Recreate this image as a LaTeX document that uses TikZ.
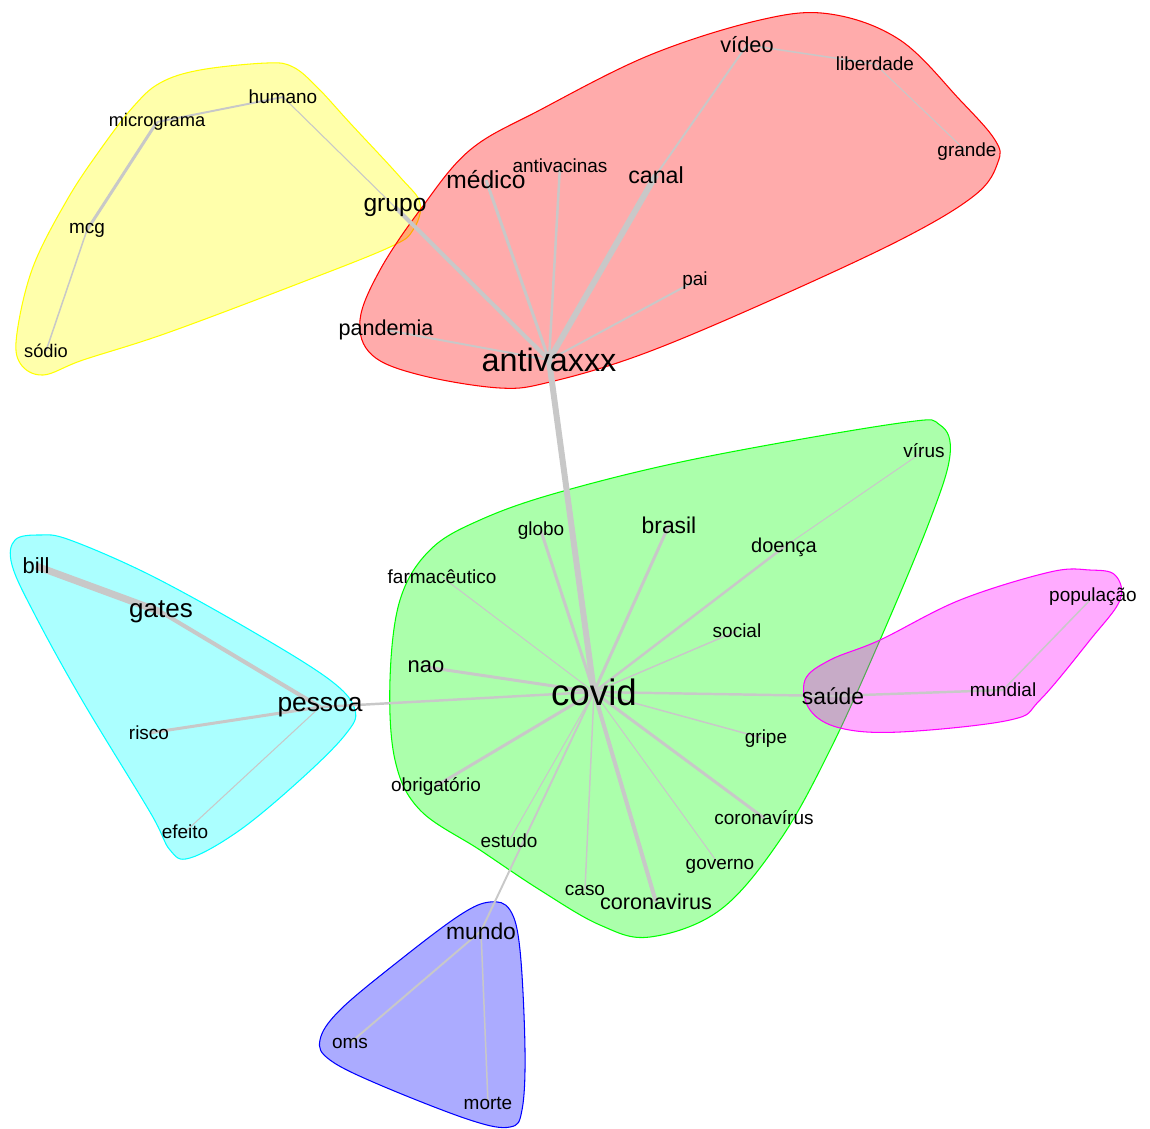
\documentclass[tikz,border=0pt]{standalone}
\usepackage{fontspec}
\setmainfont{Liberation Sans}
\pgfdeclarelayer{hull}
\pgfdeclarelayer{edge}
\pgfsetlayers{hull,edge,main}
\definecolor{lnkgray}{RGB}{200,200,200}
\definecolor{hyellow}{RGB}{255,255,0}
\definecolor{hred}{RGB}{255,0,0}
\definecolor{hgreen}{RGB}{0,255,0}
\definecolor{hcyan}{RGB}{0,255,255}
\definecolor{hmag}{RGB}{255,0,255}
\definecolor{hblue}{RGB}{0,0,255}
\tikzset{
  wrd/.style={inner sep=0pt, font=\fontsize{#1}{#1}\selectfont},
  wrd/.default=10.8,
  lnk/.style={draw=lnkgray, line width=#1},
  blob/.style={draw=#1, fill=#1, fill opacity=0.33, line width=0.6pt},
}
\begin{document}
\begin{tikzpicture}[x=0.2mm, y=-0.2mm]
\useasboundingbox (0,0) rectangle (1150,1128);
% clusters
\begin{pgfonlayer}{hull}
\draw[blob=hyellow] plot[smooth cycle, tension=0.6] coordinates {(160,83) (200,70) (267,63) (293,67) (317,87) (350,123) (400,177) (420,203) (413,230) (390,247) (300,283) (167,333) (83,360) (43,375) (20,363) (17,333) (33,267) (67,200) (100,150) (133,107)};
\draw[blob=hred] plot[smooth cycle, tension=0.6] coordinates {(760,20) (830,14) (900,40) (960,100) (995,140) (998,162) (975,195) (900,240) (760,305) (640,355) (550,382) (500,388) (420,375) (372,355) (360,320) (380,270) (420,210) (470,150) (540,110) (650,55)};
\draw[blob=hgreen] plot[smooth cycle, tension=0.6] coordinates {(900,423) (940,425) (950,455) (930,520) (880,640) (830,750) (780,840) (720,910) (650,937) (600,925) (540,890) (480,850) (420,810) (395,760) (390,680) (400,600) (430,550) (480,520) (560,492) (700,458)};
\draw[blob=hmag] plot[smooth cycle, tension=0.6] coordinates {(1090,570) (1115,575) (1120,600) (1090,640) (1040,700) (1010,720) (900,732) (840,728) (810,710) (805,680) (830,660) (880,640) (960,600) (1050,572)};
\draw[blob=hcyan] plot[smooth cycle, tension=0.6] coordinates {(40,535) (70,540) (150,575) (250,630) (330,680) (355,710) (345,735) (300,780) (240,830) (190,858) (170,850) (150,812) (82,700) (35,615) (12,565) (15,540)};
\draw[blob=hblue] plot[smooth cycle, tension=0.6] coordinates {(490,902) (510,910) (520,950) (525,1050) (522,1110) (510,1127) (470,1120) (380,1085) (330,1060) (320,1040) (340,1010) (400,960) (460,915)};
\end{pgfonlayer}
% words
\node[wrd] (humano) at (283,97) {humano};
\node[wrd=10.4] (microg) at (157,122) {micrograma};
\node[wrd] (mcg) at (87,230) {mcg};
\node[wrd=10.4] (sodio) at (46,351) {sódio};
\node[wrd=14] (grupo) at (395,207) {grupo};
\node[wrd=12.4] (video) at (747,45) {vídeo};
\node[wrd] (liberd) at (875,64) {liberdade};
\node[wrd] (grande) at (967,152) {grande};
\node[wrd=14] (medico) at (486,180) {médico};
\node[wrd] (antivac) at (560,166) {antivacinas};
\node[wrd=13.2] (canal) at (656,175) {canal};
\node[wrd] (pai) at (695,281) {pai};
\node[wrd=12.3] (pandem) at (386,330) {pandemia};
\node[wrd=18.4] (antivax) at (549,360) {antivaxxx};
\node[wrd=20.9] (covid) at (594,692) {covid};
\node[wrd] (virus) at (924,451) {vírus};
\node[wrd] (globo) at (541,531) {globo};
\node[wrd=13] (brasil) at (669,525) {brasil};
\node[wrd=11.4] (doenca) at (784,547) {doença};
\node[wrd] (farma) at (442,577) {farmacêutico};
\node[wrd] (social) at (737,631) {social};
\node[wrd=12.5] (nao) at (426,667) {nao};
\node[wrd=13] (saude) at (833,696) {saúde};
\node[wrd] (gripe) at (766,739) {gripe};
\node[wrd] (obrig) at (436,786) {obrigatório};
\node[wrd] (coronav) at (764,818) {coronavírus};
\node[wrd] (estudo) at (509,841) {estudo};
\node[wrd] (governo) at (720,866) {governo};
\node[wrd] (caso) at (585,890) {caso};
\node[wrd=12.3] (corona) at (656,902) {coronavirus};
\node[wrd=12.5] (bill) at (36,566) {bill};
\node[wrd=14.8] (gates) at (161,612) {gates};
\node[wrd=15] (pessoa) at (320,707) {pessoa};
\node[wrd] (risco) at (149,733) {risco};
\node[wrd] (efeito) at (185,832) {efeito};
\node[wrd] (mundial) at (1003,690) {mundial};
\node[wrd] (popul) at (1093,597) {população};
\node[wrd=13] (mundo) at (481,931) {mundo};
\node[wrd] (oms) at (350,1043) {oms};
\node[wrd] (morte) at (488,1103) {morte};
% links
\begin{pgfonlayer}{edge}
\foreach \a/\b/\w in {humano/microg/1.1, microg/mcg/1.7, mcg/sodio/0.85, humano/grupo/0.6,
  grupo/antivax/2.3, video/liberd/0.85, liberd/grande/0.6, video/canal/1.1,
  canal/antivax/3.4, medico/antivax/1.7, antivac/antivax/1.4, pai/antivax/1.1,
  pandem/antivax/1.1, antivax/covid/3.4, globo/covid/1.7, brasil/covid/1.7,
  doenca/covid/1.4, virus/doenca/0.6, farma/covid/0.6, social/covid/0.85,
  nao/covid/1.7, pessoa/covid/1.4, saude/covid/1.4, gripe/covid/0.85,
  obrig/covid/1.7, coronav/covid/1.7, governo/covid/0.6, corona/covid/2.3,
  caso/covid/0.85, estudo/covid/0.6, mundo/covid/1.1, bill/gates/4,
  gates/pessoa/2.3, risco/pessoa/1.7, efeito/pessoa/0.6, saude/mundial/1.4,
  mundial/popul/0.85, mundo/oms/1.1, mundo/morte/0.85}{
  \draw[lnk=\w pt] (\a.center) -- (\b.center);
}
\end{pgfonlayer}
\end{tikzpicture}
\end{document}
